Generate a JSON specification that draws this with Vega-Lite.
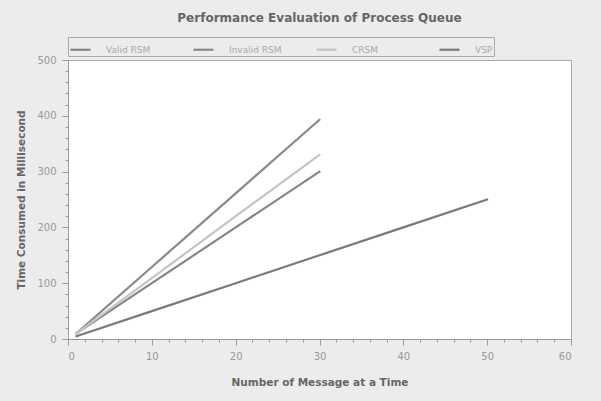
{
  "$schema": "https://vega.github.io/schema/vega-lite/v6.json",
  "width": 503,
  "height": 279,
  "autosize": "none",
  "padding": {"left": 68, "top": 60, "right": 30, "bottom": 62},
  "background": "#ececec",
  "title": {
    "text": "Performance Evaluation of Process Queue",
    "font": "DejaVu Sans",
    "fontSize": 12,
    "fontWeight": "bold",
    "color": "#666666",
    "anchor": "middle",
    "offset": 12
  },
  "config": {
    "view": {"fill": "#ffffff", "stroke": "#aaaaaa"},
    "axis": {
      "labelFont": "DejaVu Sans",
      "titleFont": "DejaVu Sans",
      "labelColor": "#999999",
      "titleColor": "#666666",
      "labelFontSize": 10,
      "titleFontSize": 10.5,
      "titleFontWeight": "bold",
      "grid": false,
      "domainColor": "#999999",
      "tickColor": "#999999"
    }
  },
  "data": {
    "values": [
      {"x": 1, "y": 10, "series": "Valid RSM"},
      {"x": 10, "y": 100, "series": "Valid RSM"},
      {"x": 20, "y": 200, "series": "Valid RSM"},
      {"x": 30, "y": 300, "series": "Valid RSM"},
      {"x": 1, "y": 10, "series": "Invalid RSM"},
      {"x": 10, "y": 129, "series": "Invalid RSM"},
      {"x": 20, "y": 261, "series": "Invalid RSM"},
      {"x": 30, "y": 393, "series": "Invalid RSM"},
      {"x": 1, "y": 10, "series": "CRSM"},
      {"x": 10, "y": 109, "series": "CRSM"},
      {"x": 20, "y": 220, "series": "CRSM"},
      {"x": 30, "y": 330, "series": "CRSM"},
      {"x": 1, "y": 5, "series": "VSP"},
      {"x": 10, "y": 50, "series": "VSP"},
      {"x": 20, "y": 100, "series": "VSP"},
      {"x": 30, "y": 150, "series": "VSP"},
      {"x": 40, "y": 200, "series": "VSP"},
      {"x": 50, "y": 250, "series": "VSP"}
    ]
  },
  "layer": [
    {
      "mark": {"type": "line", "strokeCap": "round"},
      "encoding": {
        "x": {
          "field": "x",
          "type": "quantitative",
          "scale": {"domain": [0, 60], "nice": false},
          "axis": {"orient": "bottom", "values": [0, 10, 20, 30, 40, 50, 60], "title": "Number of Message at a Time", "titlePadding": 16, "labelPadding": 6, "tickSize": 6}
        },
        "y": {
          "field": "y",
          "type": "quantitative",
          "scale": {"domain": [0, 500], "nice": false},
          "axis": {"orient": "left", "values": [0, 100, 200, 300, 400, 500], "title": "Time Consumed in Millisecond", "titlePadding": 10, "labelPadding": 6, "tickSize": 6}
        },
        "color": {
          "field": "series",
          "type": "nominal",
          "sort": ["Valid RSM", "Invalid RSM", "CRSM", "VSP"],
          "scale": {"domain": ["Valid RSM", "Invalid RSM", "CRSM", "VSP"], "range": ["#858585", "#8a8a8a", "#c4c4c4", "#7a7a7a"]},
          "legend": {
            "title": null,
            "orient": "none",
            "legendX": 0,
            "legendY": -23,
            "direction": "horizontal",
            "columns": 4,
            "gridAlign": "all",
            "columnPadding": 30,
            "symbolType": "stroke",
            "symbolSize": 400,
            "symbolStrokeWidth": 2,
            "labelOffset": 14,
            "labelFont": "DejaVu Sans",
            "labelFontSize": 9,
            "labelColor": "#aaaaaa",
            "strokeColor": "#aaaaaa",
            "padding": 1
          }
        },
        "strokeWidth": {
          "field": "series",
          "type": "nominal",
          "scale": {"domain": ["Valid RSM", "Invalid RSM", "CRSM", "VSP"], "range": [2.2, 2.2, 1.2, 2.2]},
          "legend": null
        }
      }
    },
    {
      "mark": {"type": "point", "opacity": 0},
      "encoding": {
        "x": {
          "field": "x",
          "type": "quantitative",
          "axis": {"orient": "bottom", "values": [2, 4, 6, 8, 12, 14, 16, 18, 22, 24, 26, 28, 32, 34, 36, 38, 42, 44, 46, 48, 52, 54, 56, 58], "labels": false, "domain": false, "title": null, "tickSize": 3}
        },
        "y": {
          "field": "y",
          "type": "quantitative",
          "axis": {"orient": "left", "values": [20, 40, 60, 80, 120, 140, 160, 180, 220, 240, 260, 280, 320, 340, 360, 380, 420, 440, 460, 480], "labels": false, "domain": false, "title": null, "tickSize": 3}
        }
      }
    }
  ],
  "resolve": {"axis": {"x": "independent", "y": "independent"}}
}
